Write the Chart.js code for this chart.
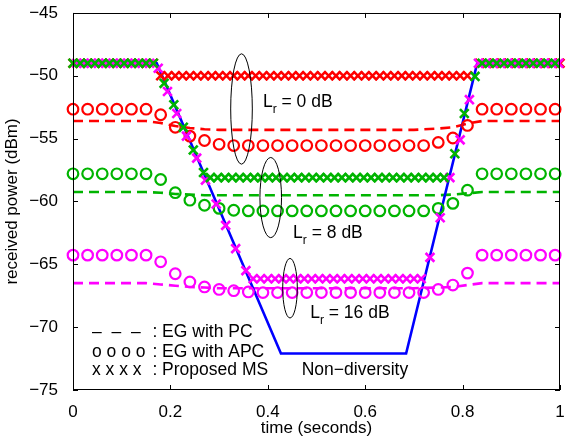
<!DOCTYPE html>
<html>
<head>
<meta charset="utf-8">
<script src="https://cdn.jsdelivr.net/npm/chart.js@4.4.1/dist/chart.umd.min.js"></script>
<style>
  html, body { margin: 0; padding: 0; background: #fff; }
</style>
</head>
<body>
<canvas id="myChart" width="569" height="443"></canvas>
<script>
// axis ticks
const xTicks = [0, 0.2, 0.4, 0.6, 0.8, 1];
const xTickLabels = ['0', '0.2', '0.4', '0.6', '0.8', '1'];
const yTicks = [-75, -70, -65, -60, -55, -50, -45];
const yTickLabels = ['\u221275', '\u221270', '\u221265', '\u221260', '\u221255', '\u221250', '\u221245'];

// non-diversity (blue line)
const nonDivTime  = [0, 0.172, 0.427, 0.684, 0.83, 1];
const nonDivPower = [-49, -49, -72.1, -72.1, -49, -49];

// EG with PC (dashed lines)
const pcTime    = [0, 0.15, 0.18, 0.21, 0.24, 0.27, 0.30, 0.70, 0.75, 0.78, 0.81, 0.84, 1];
const pcRed     = [-53.6, -53.6, -53.75, -54.0, -54.15, -54.25, -54.3, -54.3, -54.2, -54.1, -53.8, -53.6, -53.6];
const pcGreen   = [-59.25, -59.25, -59.3, -59.4, -59.45, -59.5, -59.5, -59.5, -59.5, -59.45, -59.35, -59.25, -59.25];
const pcMagenta = [-66.5, -66.5, -66.6, -66.7, -66.8, -66.85, -66.9, -66.9, -66.85, -66.8, -66.65, -66.5, -66.5];

// EG with APC (circles)
const apcTime = [0, 0.03, 0.06, 0.09, 0.12, 0.15, 0.18, 0.21, 0.24, 0.27, 0.30, 0.33,
  0.36, 0.39, 0.42, 0.45, 0.48, 0.51, 0.54, 0.57, 0.60, 0.63, 0.66, 0.69, 0.72,
  0.75, 0.78, 0.81, 0.84, 0.87, 0.90, 0.93, 0.96, 0.99];
const apcRed = [-52.66, -52.66, -52.66, -52.66, -52.66, -52.66, -53.1, -54.1, -54.8, -55.15, -55.45,
  -55.55, -55.55, -55.55, -55.55, -55.55, -55.55, -55.55, -55.55, -55.55, -55.55, -55.55, -55.55, -55.55, -55.55,
  -55.3, -54.95, -53.95, -52.66, -52.66, -52.66, -52.66, -52.66, -52.66];
const apcGreen = [-57.8, -57.8, -57.8, -57.8, -57.8, -57.8, -58.25, -59.3, -59.9, -60.3, -60.55,
  -60.7, -60.75, -60.75, -60.75, -60.75, -60.75, -60.75, -60.75, -60.75, -60.75, -60.75, -60.75, -60.75, -60.75,
  -60.55, -60.15, -59.1, -57.8, -57.8, -57.8, -57.8, -57.8, -57.8];
const apcMagenta = [-64.27, -64.27, -64.27, -64.27, -64.27, -64.27, -64.8, -65.75, -66.4, -66.8, -67.0,
  -67.1, -67.2, -67.25, -67.25, -67.25, -67.25, -67.25, -67.25, -67.25, -67.25, -67.25, -67.25, -67.25, -67.25,
  -67.0, -66.65, -65.7, -64.27, -64.27, -64.27, -64.27, -64.27, -64.27];

// Proposed MS (x markers)
const msRedTime = [0, 0.015, 0.03, 0.045, 0.06, 0.075, 0.09, 0.105, 0.12, 0.135, 0.15, 0.165,
  0.18, 0.195, 0.21, 0.225, 0.24, 0.255, 0.27, 0.285, 0.30, 0.315, 0.33, 0.345, 0.36, 0.375,
  0.39, 0.405, 0.42, 0.435, 0.45, 0.465, 0.48, 0.495, 0.51, 0.525, 0.54, 0.555, 0.57, 0.585,
  0.60, 0.615, 0.63, 0.645, 0.66, 0.675, 0.69, 0.705, 0.72, 0.735, 0.75, 0.765, 0.78, 0.795, 0.81,
  0.835, 0.85, 0.865, 0.88, 0.895, 0.91, 0.925, 0.94, 0.955, 0.97, 0.985, 1.0];
const msRed = [-49, -49, -49, -49, -49, -49, -49, -49, -49, -49, -49, -49,
  -50, -50, -50, -50, -50, -50, -50, -50, -50, -50, -50, -50, -50, -50,
  -50, -50, -50, -50, -50, -50, -50, -50, -50, -50, -50, -50, -50, -50,
  -50, -50, -50, -50, -50, -50, -50, -50, -50, -50, -50, -50, -50, -50, -50,
  -49, -49, -49, -49, -49, -49, -49, -49, -49, -49, -49, -49];

const msGreenTime = [0, 0.015, 0.03, 0.045, 0.06, 0.075, 0.09, 0.105, 0.12, 0.135, 0.15, 0.165,
  0.187, 0.207, 0.2265, 0.247, 0.268,
  0.282, 0.297, 0.312, 0.327, 0.342, 0.357, 0.372, 0.387, 0.402, 0.417, 0.432, 0.447, 0.462,
  0.477, 0.492, 0.507, 0.522, 0.537, 0.552, 0.567, 0.582, 0.597, 0.612, 0.627, 0.642, 0.657,
  0.672, 0.687, 0.702, 0.717, 0.732, 0.747, 0.762,
  0.784, 0.8035, 0.8255,
  0.84, 0.855, 0.87, 0.885, 0.90, 0.915, 0.93, 0.945, 0.96, 0.975, 0.99];
const msGreen = [-49, -49, -49, -49, -49, -49, -49, -49, -49, -49, -49, -49,
  -50.6, -52.3, -54.1, -55.9, -57.7,
  -58.1, -58.1, -58.1, -58.1, -58.1, -58.1, -58.1, -58.1, -58.1, -58.1, -58.1, -58.1, -58.1,
  -58.1, -58.1, -58.1, -58.1, -58.1, -58.1, -58.1, -58.1, -58.1, -58.1, -58.1, -58.1, -58.1,
  -58.1, -58.1, -58.1, -58.1, -58.1, -58.1, -58.1,
  -56.2, -53.0, -50.05,
  -49, -49, -49, -49, -49, -49, -49, -49, -49, -49, -49];

const msMagentaTime = [0.0075, 0.0225, 0.0375, 0.0525, 0.0675, 0.0825, 0.0975, 0.1125, 0.1275, 0.1425, 0.1575,
  0.175, 0.194, 0.213, 0.233, 0.254, 0.272, 0.294, 0.3135, 0.334, 0.355,
  0.37, 0.385, 0.40, 0.415, 0.43, 0.445, 0.46, 0.475, 0.49, 0.505, 0.52, 0.535,
  0.55, 0.565, 0.58, 0.595, 0.61, 0.625, 0.64, 0.655, 0.67, 0.685, 0.70, 0.715,
  0.733, 0.754, 0.774, 0.795, 0.814,
  0.8325, 0.8475, 0.8625, 0.8775, 0.8925, 0.9075, 0.9225, 0.9375, 0.9525, 0.9675, 0.9825, 0.9975];
const msMagenta = [-49, -49, -49, -49, -49, -49, -49, -49, -49, -49, -49,
  -49.4, -51.25, -53.0, -54.8, -56.55, -58.3, -60.2, -61.9, -63.75, -65.5,
  -66.15, -66.15, -66.15, -66.15, -66.15, -66.15, -66.15, -66.15, -66.15, -66.15, -66.15, -66.15,
  -66.15, -66.15, -66.15, -66.15, -66.15, -66.15, -66.15, -66.15, -66.15, -66.15, -66.15, -66.15,
  -64.45, -61.3, -58.1, -55.1, -51.9,
  -49, -49, -49, -49, -49, -49, -49, -49, -49, -49, -49, -49];

const RED = '#ff0000', GREEN = '#00b400', MAGENTA = '#ff00ff', BLUE = '#0000ff';
const FONT = '"Liberation Sans", Arial, Helvetica, sans-serif';
const FS = 17;      // axis text
const FS_NOTE = 17.5; // text inside the plot

const pts = (xs, ys) => xs.map((t, i) => ({ x: t, y: ys[i] }));

function dashed(data, color) {
  return { data: data, showLine: true, borderColor: color, borderWidth: 2.6, borderDash: [10, 6],
    pointRadius: 0, order: 9, clip: false };
}
function circles(data, color, order) {
  return { data: data, showLine: false, pointStyle: 'circle', pointRadius: 5.3, pointBorderWidth: 2.2,
    pointBorderColor: color, pointBackgroundColor: 'rgba(0,0,0,0)', order: order, clip: false };
}
function crosses(data, color, order) {
  return { data: data, showLine: false, pointStyle: 'crossRot', pointRadius: 6.2, pointBorderWidth: 2.6,
    pointBorderColor: color, borderColor: color, order: order, clip: false };
}

// box, inward ticks and the text/ellipse notes
const annotate = {
  id: 'annotate',
  afterDatasetsDraw(chart) {
    const ctx = chart.ctx, a = chart.chartArea, x = chart.scales.x, y = chart.scales.y;
    ctx.save();
    ctx.strokeStyle = '#000';
    ctx.lineWidth = 1;
    ctx.strokeRect(Math.round(a.left) + 0.5, Math.round(a.top) + 0.5,
      Math.round(a.right - a.left) - 1, Math.round(a.bottom - a.top) - 1);
    const tl = 5;
    ctx.beginPath();
    xTicks.forEach(v => {
      const px = Math.round(x.getPixelForValue(v)) + 0.5;
      ctx.moveTo(px, a.bottom); ctx.lineTo(px, a.bottom - tl);
      ctx.moveTo(px, a.top); ctx.lineTo(px, a.top + tl);
    });
    yTicks.forEach(v => {
      const py = Math.round(y.getPixelForValue(v)) + 0.5;
      ctx.moveTo(a.left, py); ctx.lineTo(a.left + tl, py);
      ctx.moveTo(a.right, py); ctx.lineTo(a.right - tl, py);
    });
    ctx.stroke();

    // ellipses around the groups
    const ell = (cx, cy, rx, ry) => {
      const px = x.getPixelForValue(cx), py = y.getPixelForValue(cy);
      const rxp = x.getPixelForValue(cx + rx) - px, ryp = py - y.getPixelForValue(cy + ry);
      ctx.beginPath();
      ctx.ellipse(px, py, rxp, ryp, 0, 0, Math.PI * 2);
      ctx.stroke();
    };
    ell(0.346, -52.64, 0.0222, 4.39);
    ell(0.406, -59.69, 0.0222, 3.19);
    ell(0.4456, -66.9, 0.015, 2.37);

    ctx.fillStyle = '#000';
    ctx.textBaseline = 'alphabetic';
    ctx.textAlign = 'left';
    const lr = (tx, ty, rest) => {
      let px = x.getPixelForValue(tx), py = y.getPixelForValue(ty);
      ctx.font = FS_NOTE + 'px ' + FONT;
      ctx.fillText('L', px, py);
      px += ctx.measureText('L').width;
      ctx.font = '12px ' + FONT;
      ctx.fillText('r', px, py + 6);
      px += ctx.measureText('r').width;
      ctx.font = FS_NOTE + 'px ' + FONT;
      ctx.fillText(rest, px, py);
    };
    lr(0.390, -52.48, ' = 0 dB');
    lr(0.452, -62.89, ' = 8 dB');
    lr(0.487, -69.27, ' = 16 dB');

    ctx.font = FS_NOTE + 'px ' + FONT;
    ctx.textAlign = 'center';
    ctx.fillText('Non\u2212diversity', x.getPixelForValue(0.579), y.getPixelForValue(-73.83));

    ctx.textAlign = 'left';
    const keys = [['\u2013  \u2013  \u2013', ': EG with PC', -70.78],
                  ['o o o o', ': EG with APC', -72.34],
                  ['x x x x', ': Proposed MS', -73.83]];
    keys.forEach(k => {
      const py = y.getPixelForValue(k[2]);
      ctx.fillText(k[0], x.getPixelForValue(0.039), py);
      ctx.fillText(k[1], x.getPixelForValue(0.163), py);
    });
    ctx.restore();
  }
};

Chart.defaults.font.family = FONT;
Chart.defaults.font.size = FS;
Chart.defaults.color = '#000';

const ctx = document.getElementById('myChart').getContext('2d');
const myChart = new Chart(ctx, {
  type: 'scatter',
  data: {
    datasets: [
      crosses(pts(msGreenTime, msGreen), GREEN, 0),
      crosses(pts(msMagentaTime, msMagenta), MAGENTA, 1),
      crosses(pts(msRedTime, msRed), RED, 2),
      circles(pts(apcTime, apcRed), RED, 3),
      circles(pts(apcTime, apcGreen), GREEN, 4),
      circles(pts(apcTime, apcMagenta), MAGENTA, 5),
      { data: pts(nonDivTime, nonDivPower), showLine: true, borderColor: BLUE, borderWidth: 2.6,
        pointRadius: 0, order: 6, clip: false },
      dashed(pts(pcTime, pcRed), RED),
      dashed(pts(pcTime, pcGreen), GREEN),
      dashed(pts(pcTime, pcMagenta), MAGENTA)
    ]
  },
  options: {
    responsive: false,
    animation: false,
    devicePixelRatio: 1,
    layout: { padding: { top: 6, right: 9, left: 0, bottom: 0 } },
    plugins: { legend: { display: false }, tooltip: { enabled: false } },
    scales: {
      x: {
        type: 'linear', min: 0, max: 1,
        grid: { display: false },
        border: { display: false },
        afterBuildTicks: s => { s.ticks = xTicks.map(v => ({ value: v })); },
        afterFit: s => { s.height = 53; },
        ticks: { padding: 4, maxRotation: 0, callback: (v, i) => xTickLabels[i] },
        title: { display: true, text: 'time (seconds)', padding: { top: 0, bottom: 4 } }
      },
      y: {
        type: 'linear', min: -75, max: -45,
        grid: { display: false },
        border: { display: false },
        afterBuildTicks: s => { s.ticks = yTicks.map(v => ({ value: v })); },
        afterFit: s => { s.width = 73; },
        ticks: { padding: 7, font: { lineHeight: 0.7 }, callback: (v, i) => yTickLabels[i] },
        title: { display: true, text: 'received power (dBm)', padding: { top: 2, bottom: 0 } }
      }
    }
  },
  plugins: [annotate]
});
</script>
</body>
</html>
